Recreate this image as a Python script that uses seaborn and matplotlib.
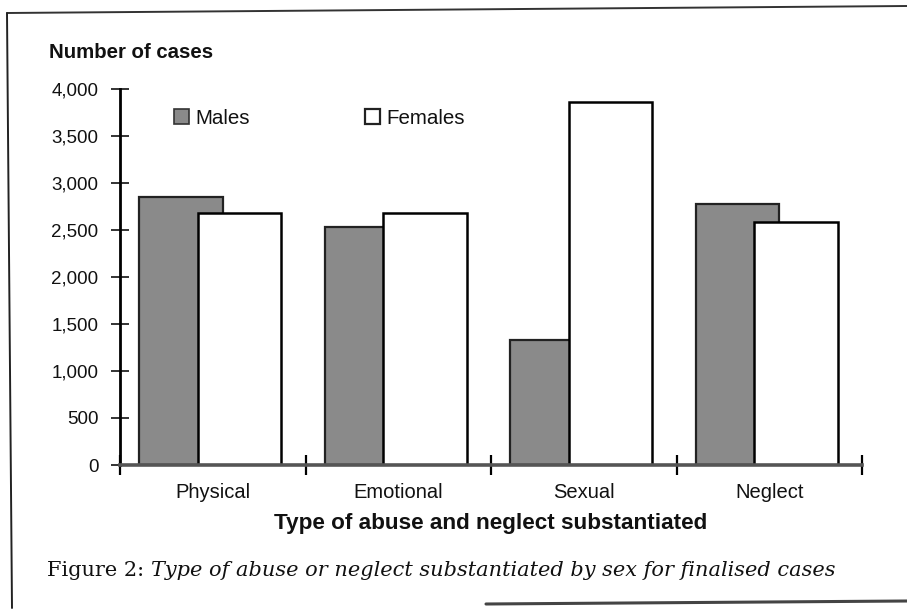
import numpy as np
import pandas as pd
import matplotlib
matplotlib.use("Agg")
import matplotlib.pyplot as plt
import seaborn as sns
from matplotlib.patches import Patch
from matplotlib.lines import Line2D

categories = ["Physical", "Emotional", "Sexual", "Neglect"]
males = [2850, 2530, 1330, 2780]
females = [2680, 2680, 3860, 2580]
yticks = [0, 500, 1000, 1500, 2000, 2500, 3000, 3500, 4000]
ytick_labels = ["0", "500", "1,000", "1,500", "2,000", "2,500", "3,000", "3,500", "4,000"]

sns.set_theme(style="white")
plt.rcParams["font.family"] = ["Liberation Sans", "DejaVu Sans"]

W, H = 907, 615
fig = plt.figure(figsize=(W / 100, H / 100), dpi=100)
fig.patch.set_facecolor("white")

def fx(px):
    return px / W

def fy(py):
    return 1 - py / H

ax = fig.add_axes([fx(120), fy(465), fx(862) - fx(120), fy(89) - fy(465)])
ax.set_facecolor("white")

male_off, fem_off, bw = -0.17, 0.145, 0.45
idx = np.arange(len(categories))
df_m = pd.DataFrame({"pos": idx + male_off, "value": males})
df_f = pd.DataFrame({"pos": idx + fem_off, "value": females})

male_col = "#8a8a8a"
sns.barplot(data=df_m, x="pos", y="value", native_scale=True, width=bw,
            color=male_col, edgecolor="#222222", linewidth=1.6,
            saturation=1, errorbar=None, ax=ax)
sns.barplot(data=df_f, x="pos", y="value", native_scale=True, width=bw,
            color="white", edgecolor="black", linewidth=1.8,
            saturation=1, errorbar=None, ax=ax)

ax.set_xlim(-0.5, len(categories) - 0.5)
ax.set_ylim(0, 4000)
ax.set_xlabel("")
ax.set_ylabel("")

for s in ["top", "right"]:
    ax.spines[s].set_visible(False)
ax.spines["left"].set_linewidth(2.0)
ax.spines["left"].set_color("black")
ax.spines["bottom"].set_linewidth(2.6)
ax.spines["bottom"].set_color("#555555")

ax.set_yticks(yticks)
ax.set_yticklabels(ytick_labels)
ax.tick_params(axis="y", direction="inout", length=13, width=1.4, color="#333333",
               pad=9, labelsize=13.5, labelcolor="#111111", left=True)

ax.set_xticks(idx)
ax.set_xticklabels(categories)
ax.tick_params(axis="x", which="major", length=0, pad=13, labelsize=14.5, labelcolor="#111111")
ax.set_xticks(np.arange(-0.5, len(categories) + 0.5, 1), minor=True)
ax.tick_params(axis="x", which="minor", direction="inout", length=14, width=1.6,
               color="black", bottom=True)

# Legend
handles = [Patch(facecolor=male_col, edgecolor="#333333", linewidth=1.2, label="Males"),
           Patch(facecolor="white", edgecolor="#222222", linewidth=1.6, label="Females")]
leg = fig.legend(handles=handles, loc="upper left", bbox_to_anchor=(fx(174), fy(109)),
                 ncol=2, frameon=False, fontsize=14.8, handlelength=0.72, handleheight=0.72,
                 handletextpad=0.33, columnspacing=5.6, borderpad=0, borderaxespad=0)
for t in leg.get_texts():
    t.set_color("#111111")

# Axis titles
fig.text(fx(49), fy(53), "Number of cases", fontsize=14.7, fontweight="bold",
         ha="left", va="center", color="#111111")
fig.text(fx(491), fy(523), "Type of abuse and neglect substantiated", fontsize=16.2,
         fontweight="bold", ha="center", va="center", color="#111111")

# Caption
fig.canvas.draw()
r = fig.canvas.get_renderer()
cap_y = fy(570)
t1 = fig.text(fx(47), cap_y, "Figure 2: ", fontfamily="DejaVu Serif", fontsize=15,
              ha="left", va="center", color="#111111")
bb = t1.get_window_extent(r)
fig.text(bb.x1 / W, cap_y, "Type of abuse or neglect substantiated by sex for finalised cases",
         fontfamily="DejaVu Serif", style="italic", fontsize=15,
         ha="left", va="center", color="#111111")

# Outer frame lines (scan)
fig.add_artist(Line2D([fx(7), fx(907)], [fy(13), fy(6)], color="#333333", lw=1.4))
fig.add_artist(Line2D([fx(7), fx(12)], [fy(13), fy(608)], color="#222222", lw=1.4))
fig.add_artist(Line2D([fx(486), fx(907)], [fy(604), fy(601)], color="#444444", lw=2.2))

fig.savefig("out.png", dpi=100, facecolor="white")
